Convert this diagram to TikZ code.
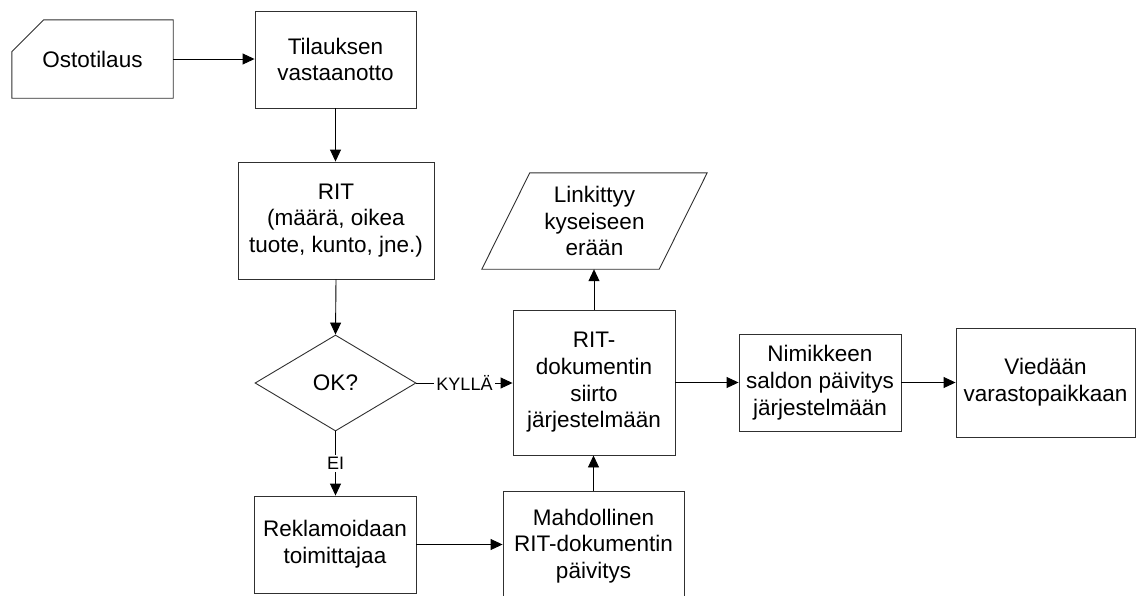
\documentclass[tikz,border=0pt]{standalone}
\usepackage{fontspec}
\setmainfont{Liberation Sans}
\usetikzlibrary{arrows.meta,shapes.geometric}
\definecolor{linec}{HTML}{303030}
\begin{document}
\begin{tikzpicture}[x=1pt,y=-1pt,
  txt/.style={font=\fontsize{22.5}{26.7}\selectfont, align=center, inner sep=0pt},
  box/.style={txt, draw=linec, line width=0.9pt},
  plain/.style={txt},
  outline/.style={draw=linec, line width=0.9pt},
  conn/.style={draw=black, line width=0.9pt, -{Triangle[length=12pt,width=11pt]}},
  lbl/.style={font=\fontsize{18}{20}\selectfont, fill=white, inner sep=2pt}]
\useasboundingbox (0,0) rectangle (1138,595);
\clip (0,0) rectangle (1138,595);
% nodes
\node[plain, minimum width=161, minimum height=78] (osto) at (92.5,59) {Ostotilaus};
\draw[outline] (osto.south west) -- (osto.south east) -- (osto.north east)
  -- ([xshift=32pt]osto.north west) -- ([yshift=-32pt]osto.north west) -- cycle;
\node[box, minimum width=161, minimum height=97] (tv) at (335.5,59.5) {Tilauksen\\vastaanotto};
\node[box, minimum width=196, minimum height=117] (rit) at (336,220.5) {RIT\\(määrä, oikea\\tuote, kunto, jne.)};
\node[diamond, txt, draw=linec, line width=0.9pt, minimum width=161, minimum height=96] (ok) at (335.5,383) {OK?};
\node[box, minimum width=162, minimum height=97] (rek) at (335,544.5) {Reklamoidaan\\toimittajaa};
\node[box, minimum width=181, minimum height=110] (mah) at (593.5,546) {Mahdollinen\\RIT-dokumentin\\päivitys};
\node[box, minimum width=162, minimum height=145] (rd) at (594,382.5) {RIT-\\dokumentin\\siirto\\järjestelmään};
\node[plain, minimum width=225, minimum height=96] (lk) at (594.5,221) {Linkittyy\\kyseiseen\\erään};
\draw[outline] (lk.south west) -- ([xshift=-48pt]lk.south east) -- (lk.north east)
  -- ([xshift=48pt]lk.north west) -- cycle;
\node[box, minimum width=162, minimum height=97] (nim) at (820,382.5) {Nimikkeen\\saldon päivitys\\järjestelmään};
\node[box, minimum width=179, minimum height=109] (vie) at (1045.5,382.5) {Viedään\\varastopaikkaan};
% connectors
\draw[conn] (osto.east) -- (osto.east -| tv.west);
\draw[conn] (tv.south) -- (tv.south |- rit.north);
\draw[conn] (rit.south) -- (ok.north);
\draw[conn] (ok.east) -- (ok.east -| rd.west) node[midway, lbl] {KYLLÄ};
\draw[conn] (ok.south) -- (ok.south |- rek.north) node[midway, lbl] {EI};
\draw[conn] (rek.east) -- (rek.east -| mah.west);
\draw[conn] (mah.north) -- (mah.north |- rd.south);
\draw[conn] (rd.north) -- (rd.north |- lk.south);
\draw[conn] (rd.east) -- (rd.east -| nim.west);
\draw[conn] (nim.east) -- (nim.east -| vie.west);
\end{tikzpicture}
\end{document}
